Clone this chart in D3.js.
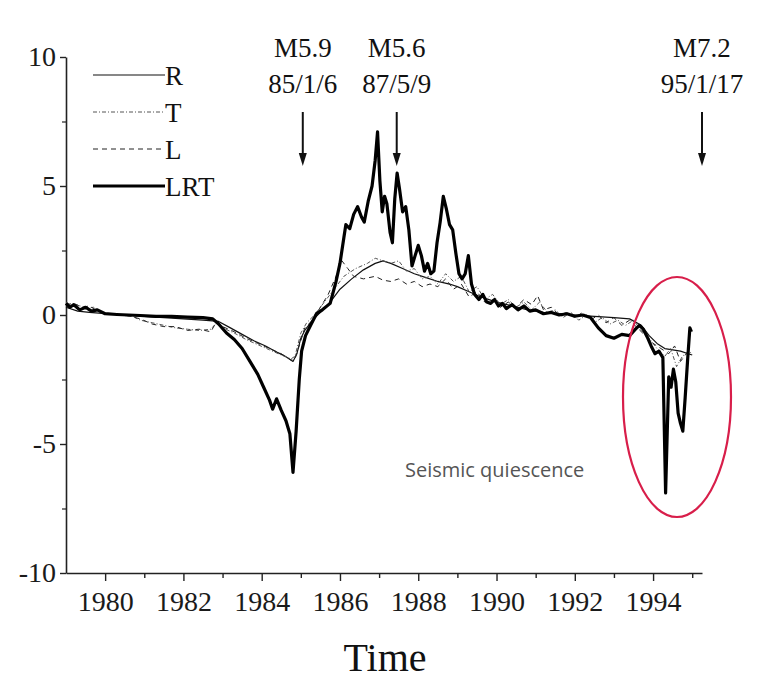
<!DOCTYPE html>
<html>
<head>
<meta charset="utf-8">
<script src="https://cdn.jsdelivr.net/npm/d3@7"></script>
<style>
  body { margin: 0; background: #fff; }
  svg { display: block; }
  .axis path, .axis line { stroke: #222; }
</style>
</head>
<body>
<svg id="chart" width="760" height="682"></svg>
<script>
// x = year, y = anomaly value
const lrt = [
  [1979.00, 0.45], [1979.10, 0.30], [1979.20, 0.40], [1979.35, 0.20], [1979.50, 0.30],
  [1979.65, 0.15], [1979.80, 0.20], [1980.00, 0.05], [1980.30, 0.02], [1980.60, 0.00],
  [1980.90, -0.02], [1981.30, -0.05], [1981.70, -0.05], [1982.10, -0.08], [1982.50, -0.10],
  [1982.75, -0.15], [1982.90, -0.35], [1983.10, -0.70], [1983.30, -0.95], [1983.50, -1.30],
  [1983.70, -1.80], [1983.90, -2.30], [1984.05, -2.80], [1984.20, -3.30], [1984.28, -3.65],
  [1984.38, -3.25], [1984.50, -3.70], [1984.62, -4.10], [1984.72, -4.60], [1984.80, -6.10],
  [1984.88, -4.50], [1984.96, -2.50], [1985.02, -1.40], [1985.12, -0.80], [1985.25, -0.40],
  [1985.40, 0.05], [1985.55, 0.20], [1985.75, 0.45], [1985.90, 1.30], [1986.00, 2.00],
  [1986.10, 3.00], [1986.15, 3.50], [1986.25, 3.35], [1986.35, 3.90], [1986.45, 4.20],
  [1986.55, 3.80], [1986.62, 3.60], [1986.72, 4.40], [1986.82, 5.00], [1986.90, 6.00],
  [1986.96, 7.10], [1987.02, 5.20], [1987.08, 4.00], [1987.14, 4.60], [1987.20, 4.30],
  [1987.28, 3.20], [1987.34, 2.80], [1987.40, 4.50], [1987.46, 5.50], [1987.52, 4.90],
  [1987.60, 4.00], [1987.68, 4.20], [1987.76, 3.30], [1987.84, 1.90], [1987.92, 2.30],
  [1988.00, 2.70], [1988.08, 2.30], [1988.16, 1.70], [1988.24, 2.00], [1988.32, 1.60],
  [1988.40, 1.70], [1988.48, 2.80], [1988.56, 3.60], [1988.64, 4.60], [1988.72, 4.10],
  [1988.80, 3.50], [1988.88, 3.30], [1988.96, 2.40], [1989.04, 1.60], [1989.12, 1.40],
  [1989.20, 1.60], [1989.28, 2.30], [1989.36, 1.20], [1989.44, 0.80], [1989.55, 0.60],
  [1989.65, 0.80], [1989.75, 0.50], [1989.85, 0.45], [1989.95, 0.60], [1990.05, 0.35],
  [1990.15, 0.45], [1990.25, 0.25], [1990.40, 0.40], [1990.55, 0.20], [1990.70, 0.35],
  [1990.85, 0.15], [1991.00, 0.20], [1991.20, 0.05], [1991.40, 0.10], [1991.60, 0.00],
  [1991.80, 0.05], [1992.00, -0.05], [1992.20, 0.00], [1992.40, -0.10], [1992.60, -0.50],
  [1992.80, -0.80], [1993.00, -0.90], [1993.20, -0.75], [1993.40, -0.80], [1993.55, -0.55],
  [1993.65, -0.40], [1993.75, -0.55], [1993.85, -0.85], [1993.95, -1.20], [1994.05, -1.50],
  [1994.15, -1.40], [1994.25, -1.65], [1994.32, -6.90], [1994.40, -2.40], [1994.46, -2.80],
  [1994.52, -2.10], [1994.58, -2.60], [1994.64, -3.80], [1994.70, -4.20], [1994.76, -4.50],
  [1994.82, -3.20], [1994.88, -1.80], [1994.94, -0.50], [1994.98, -0.65]
];

const r = [
  [1979.0, 0.30], [1979.3, 0.15], [1979.6, 0.10], [1980.0, 0.05], [1980.5, 0.00],
  [1981.0, -0.05], [1981.5, -0.10], [1982.0, -0.15], [1982.5, -0.20], [1982.9, -0.25],
  [1983.2, -0.50], [1983.5, -0.75], [1983.8, -1.00], [1984.1, -1.20], [1984.4, -1.45],
  [1984.6, -1.60], [1984.8, -1.80], [1984.9, -1.50], [1985.0, -0.90], [1985.1, -0.60],
  [1985.3, -0.20], [1985.5, 0.10], [1985.75, 0.50], [1986.0, 1.00], [1986.3, 1.40],
  [1986.6, 1.75], [1986.9, 2.00], [1987.1, 2.10], [1987.3, 2.00], [1987.6, 1.80],
  [1987.9, 1.60], [1988.2, 1.45], [1988.5, 1.30], [1988.8, 1.20], [1989.0, 1.10],
  [1989.3, 0.90], [1989.6, 0.70], [1990.0, 0.50], [1990.4, 0.35], [1990.8, 0.20],
  [1991.2, 0.10], [1991.6, 0.05], [1992.0, 0.00], [1992.5, -0.05], [1993.0, -0.10],
  [1993.4, -0.15], [1993.7, -0.40], [1993.9, -0.80], [1994.1, -1.10], [1994.3, -1.30],
  [1994.5, -1.35], [1994.7, -1.40], [1994.9, -1.50], [1995.0, -1.55]
];

const t = [
  [1979.0, 0.50], [1979.15, 0.35], [1979.3, 0.40], [1979.5, 0.25], [1979.7, 0.30],
  [1979.9, 0.10], [1980.3, 0.00], [1980.7, -0.05], [1980.9, -0.20], [1981.2, -0.30],
  [1981.5, -0.40], [1981.8, -0.50], [1982.1, -0.55], [1982.4, -0.60], [1982.7, -0.55],
  [1982.85, -0.30], [1983.0, -0.50], [1983.3, -0.70], [1983.6, -0.95], [1983.9, -1.15],
  [1984.2, -1.35], [1984.5, -1.55], [1984.75, -1.70], [1984.85, -1.60], [1985.0, -0.70],
  [1985.15, -0.30], [1985.35, 0.00], [1985.6, 0.50], [1985.85, 1.00], [1986.1, 1.50],
  [1986.4, 1.80], [1986.7, 2.00], [1986.9, 2.20], [1987.1, 2.10], [1987.3, 2.00],
  [1987.5, 2.10], [1987.7, 1.70], [1987.9, 1.80], [1988.1, 1.40], [1988.3, 1.50],
  [1988.5, 1.20], [1988.7, 1.60], [1988.9, 1.30], [1989.1, 1.50], [1989.3, 0.90],
  [1989.5, 1.10], [1989.7, 0.60], [1989.9, 0.80], [1990.1, 0.40], [1990.3, 0.60],
  [1990.5, 0.30], [1990.7, 0.50], [1990.9, 0.20], [1991.1, 0.50], [1991.3, 0.10],
  [1991.5, 0.20], [1991.7, -0.10], [1991.9, 0.10], [1992.1, -0.20], [1992.3, 0.00],
  [1992.5, -0.30], [1992.7, -0.10], [1992.9, -0.35], [1993.1, -0.20], [1993.3, -0.40],
  [1993.5, -0.20], [1993.7, -0.60], [1993.9, -0.90], [1994.1, -1.30], [1994.3, -1.60],
  [1994.45, -1.30], [1994.6, -2.00], [1994.75, -1.60], [1994.9, -1.40], [1995.0, -1.50]
];

const l = [
  [1979.0, 0.40], [1979.2, 0.45], [1979.4, 0.30], [1979.6, 0.35], [1979.8, 0.15],
  [1980.1, 0.05], [1980.5, 0.00], [1980.9, -0.15], [1981.2, -0.35], [1981.5, -0.45],
  [1981.8, -0.45], [1982.1, -0.60], [1982.4, -0.55], [1982.7, -0.65], [1982.85, -0.25],
  [1983.0, -0.45], [1983.3, -0.65], [1983.6, -0.90], [1983.9, -1.10], [1984.2, -1.30],
  [1984.5, -1.50], [1984.75, -1.75], [1984.85, -1.70], [1985.0, -1.00], [1985.1, -0.50],
  [1985.3, -0.20], [1985.5, 0.30], [1985.7, 0.80], [1985.9, 1.50], [1986.05, 2.10],
  [1986.2, 1.80], [1986.35, 1.50], [1986.6, 1.40], [1986.9, 1.50], [1987.1, 1.35],
  [1987.3, 1.30], [1987.5, 1.40], [1987.7, 1.20], [1987.9, 1.30], [1988.1, 1.10],
  [1988.3, 1.20], [1988.5, 1.10], [1988.7, 1.40], [1988.9, 1.00], [1989.1, 1.20],
  [1989.3, 0.70], [1989.5, 0.90], [1989.7, 0.50], [1989.9, 0.60], [1990.1, 0.30],
  [1990.3, 0.50], [1990.5, 0.30], [1990.7, 0.60], [1990.9, 0.40], [1991.05, 0.75],
  [1991.2, 0.20], [1991.4, 0.30], [1991.6, 0.00], [1991.8, 0.10], [1992.0, -0.10],
  [1992.2, 0.10], [1992.4, -0.20], [1992.6, 0.00], [1992.8, -0.30], [1993.0, -0.10],
  [1993.2, -0.40], [1993.4, -0.20], [1993.6, -0.50], [1993.8, -0.80], [1994.0, -1.10],
  [1994.2, -1.30], [1994.4, -1.50], [1994.55, -1.20], [1994.7, -1.80], [1994.85, -1.50],
  [1995.0, -1.60]
];

const seriesNames = ['R', 'T', 'L', 'LRT'];
const quakes = [
  { year: 1985.05, mag: 'M5.9', date: '85/1/6' },
  { year: 1987.45, mag: 'M5.6', date: '87/5/9' },
  { year: 1995.25, mag: 'M7.2', date: '95/1/17' }
];
const xMajorTicks = [1980, 1982, 1984, 1986, 1988, 1990, 1992, 1994];
const xMinorTicks = [1981, 1983, 1985, 1987, 1989, 1991, 1993, 1995];
const yMajorTicks = [-10, -5, 0, 5, 10];
const yMinorTicks = [-7.5, -2.5, 2.5, 7.5];

const styles = {
  R:   { width: 1.2, dash: null, color: '#111' },
  T:   { width: 1.0, dash: '4,2,1,2', color: '#555' },
  L:   { width: 1.0, dash: '5,4', color: '#222' },
  LRT: { width: 3.2, dash: null, color: '#000' }
};
const dataByName = { R: r, T: t, L: l, LRT: lrt };

const svg = d3.select('#chart');
const plotLeft = 66, plotRight = 702, plotTop = 57, plotBottom = 573;

const x = d3.scaleLinear().domain([1979, 1995.25]).range([plotLeft, plotRight]);
const y = d3.scaleLinear().domain([-10, 10]).range([plotBottom, plotTop]);

const serif = '"Liberation Serif", "DejaVu Serif", serif';

// axes
const xAxis = svg.append('g').attr('class', 'axis')
  .attr('transform', `translate(0,${plotBottom})`)
  .call(d3.axisBottom(x).tickValues(xMajorTicks).tickFormat(d => String(d))
    .tickSize(8).tickPadding(10).tickSizeOuter(0));
xAxis.attr('font-family', serif);
xAxis.select('.domain').attr('stroke-width', 1.6);
xAxis.selectAll('line').attr('stroke-width', 1.4);
xAxis.selectAll('text').attr('font-size', 28).attr('fill', '#1a1a1a');

svg.append('g').attr('class', 'axis')
  .attr('transform', `translate(0,${plotBottom})`)
  .call(d3.axisBottom(x).tickValues(xMinorTicks).tickFormat('').tickSize(5).tickSizeOuter(0))
  .call(g => g.select('.domain').remove())
  .selectAll('line').attr('stroke-width', 1.4);

const yAxis = svg.append('g').attr('class', 'axis')
  .attr('transform', `translate(${plotLeft},0)`)
  .call(d3.axisLeft(y).tickValues(yMajorTicks).tickFormat(d => String(d))
    .tickSize(6).tickPadding(4).tickSizeOuter(0));
yAxis.attr('font-family', serif);
yAxis.select('.domain').attr('stroke-width', 1.6);
yAxis.selectAll('line').attr('stroke-width', 1.4);
yAxis.selectAll('text').attr('font-size', 28).attr('fill', '#1a1a1a');

svg.append('g').attr('class', 'axis')
  .attr('transform', `translate(${plotLeft},0)`)
  .call(d3.axisLeft(y).tickValues(yMinorTicks).tickFormat('').tickSize(4).tickSizeOuter(0))
  .call(g => g.select('.domain').remove())
  .selectAll('line').attr('stroke-width', 1.2);

// axis title
svg.append('text')
  .attr('x', (plotLeft + plotRight) / 2 + 1).attr('y', 671)
  .attr('text-anchor', 'middle')
  .attr('font-family', serif).attr('font-size', 40)
  .attr('fill', '#111')
  .text('Time');

// lines
const line = d3.line().x(d => x(d[0])).y(d => y(d[1]));
const lineG = svg.append('g');
seriesNames.forEach(name => {
  const s = styles[name];
  lineG.append('path')
    .datum(dataByName[name])
    .attr('fill', 'none')
    .attr('stroke', s.color)
    .attr('stroke-width', s.width)
    .attr('stroke-dasharray', s.dash)
    .attr('stroke-linejoin', 'round')
    .attr('d', line);
});

// legend
const legend = svg.append('g').attr('transform', 'translate(93,75)');
seriesNames.forEach((name, i) => {
  const s = styles[name];
  const g = legend.append('g').attr('transform', `translate(0,${i * 37})`);
  g.append('line')
    .attr('x1', 0).attr('x2', 72).attr('y1', 0).attr('y2', 0)
    .attr('stroke', s.color)
    .attr('stroke-width', s.width)
    .attr('stroke-dasharray', s.dash);
  g.append('text')
    .attr('x', 72).attr('y', 10)
    .attr('font-family', serif).attr('font-size', 27)
    .attr('fill', '#111')
    .text(name);
});

// earthquake annotations
const ann = svg.append('g');
quakes.forEach(q => {
  const cx = x(q.year);
  ann.append('text')
    .attr('x', cx).attr('y', 57)
    .attr('text-anchor', 'middle')
    .attr('font-family', serif).attr('font-size', 27)
    .attr('fill', '#111')
    .text(q.mag);
  ann.append('text')
    .attr('x', cx).attr('y', 93)
    .attr('text-anchor', 'middle')
    .attr('font-family', serif).attr('font-size', 27)
    .attr('fill', '#111')
    .text(q.date);
  ann.append('line')
    .attr('x1', cx).attr('x2', cx)
    .attr('y1', 112).attr('y2', 155)
    .attr('stroke', '#111').attr('stroke-width', 2);
  ann.append('path')
    .attr('d', `M${cx - 4},153 L${cx + 4},153 L${cx},166 Z`)
    .attr('fill', '#111');
});

// seismic quiescence highlight
svg.append('ellipse')
  .attr('cx', 677).attr('cy', 397)
  .attr('rx', 54).attr('ry', 120)
  .attr('fill', 'none')
  .attr('stroke', '#d81e4a')
  .attr('stroke-width', 2.2);

svg.append('text')
  .attr('x', 405).attr('y', 477)
  .attr('font-family', '"Open Sans", "Noto Sans", sans-serif')
  .attr('font-size', 20)
  .attr('fill', '#555')
  .text('Seismic quiescence');
</script>
</body>
</html>
